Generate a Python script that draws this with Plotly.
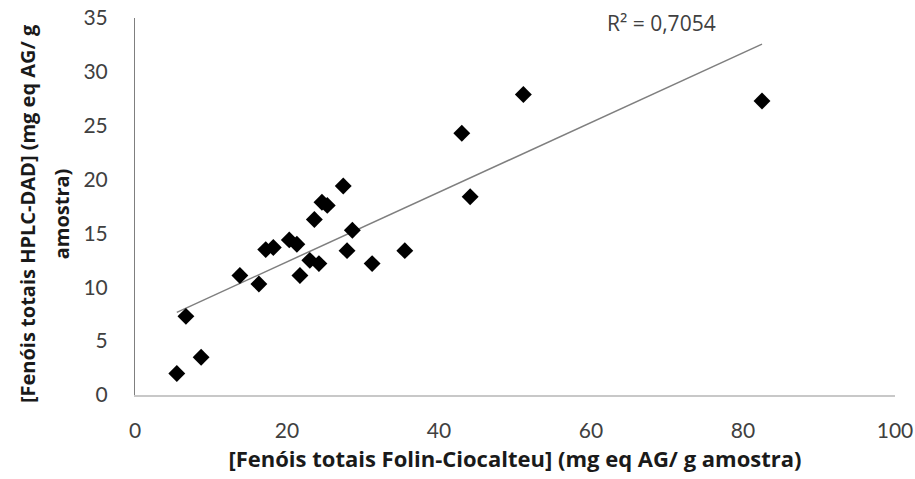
import numpy as np
import plotly.graph_objects as go

# Total phenolics: Folin-Ciocalteu (x) vs HPLC-DAD (y), mg eq AG / g sample
folin = [5.5, 6.7, 8.7, 13.8, 16.3, 17.2, 18.2, 20.3, 21.3, 21.7, 23.0, 24.2,
         23.6, 24.6, 25.3, 27.4, 27.9, 28.6, 31.2, 35.5, 43.0, 44.1, 51.1, 82.5]
hplc = [2.0, 7.3, 3.5, 11.1, 10.3, 13.5, 13.7, 14.4, 14.0, 11.1, 12.5, 12.2,
        16.3, 17.9, 17.6, 19.4, 13.4, 15.3, 12.2, 13.4, 24.3, 18.4, 27.9, 27.3]
r2_label = "R² = 0,7054"

x_title = "[Fenóis totais Folin-Ciocalteu] (mg eq AG/ g amostra)"
y_title_lines = ["[Fenóis totais HPLC-DAD] (mg eq AG/ g", "amostra)"]

# Linear trend line across the data range
slope, intercept = np.polyfit(folin, hplc, 1)
tx = [min(folin), max(folin)]
ty = [slope * v + intercept for v in tx]

fig = go.Figure()
fig.add_trace(go.Scatter(x=tx, y=ty, mode="lines",
                         line=dict(color="#7f7f7f", width=1.5),
                         hoverinfo="skip", showlegend=False))
fig.add_trace(go.Scatter(x=folin, y=hplc, mode="markers",
                         marker=dict(symbol="diamond", size=13, color="black"),
                         showlegend=False))

tick_font = dict(family="Lato, Open Sans, sans-serif", size=21, color="#404040")
title_font = dict(family="Open Sans, sans-serif", size=22,
                  color="#1a1a1a", weight="bold")

fig.update_xaxes(range=[0, 100], dtick=20, showgrid=False, zeroline=False,
                 showline=True, linecolor="#c8c8c8", linewidth=2,
                 ticks="", ticklabelstandoff=16, tickfont=tick_font,
                 automargin=False,
                 title=dict(text=x_title, standoff=10, font=title_font))
fig.update_yaxes(range=[0, 35], dtick=5, showgrid=False, zeroline=False,
                 showline=True, linecolor="#7f7f7f", linewidth=1,
                 ticks="", ticklabelstandoff=22, tickfont=tick_font,
                 automargin=False)

# Rotated y-axis title, one annotation per line
for line_text, xpos in zip(y_title_lines, [-0.142, -0.097]):
    fig.add_annotation(text=line_text, xref="paper", yref="paper",
                       x=xpos, y=0.48, xanchor="center", yanchor="middle",
                       textangle=-90, showarrow=False,
                       font=dict(title_font, size=20))

fig.add_annotation(text=r2_label, xref="x", yref="y", x=69.3, y=34.5,
                   showarrow=False,
                   font=dict(family="Open Sans, sans-serif", size=21,
                             color="#404040"))

fig.update_layout(width=915, height=479, plot_bgcolor="white",
                  paper_bgcolor="white",
                  margin=dict(l=135, r=20, t=18, b=84))

fig.write_html("out.html")
